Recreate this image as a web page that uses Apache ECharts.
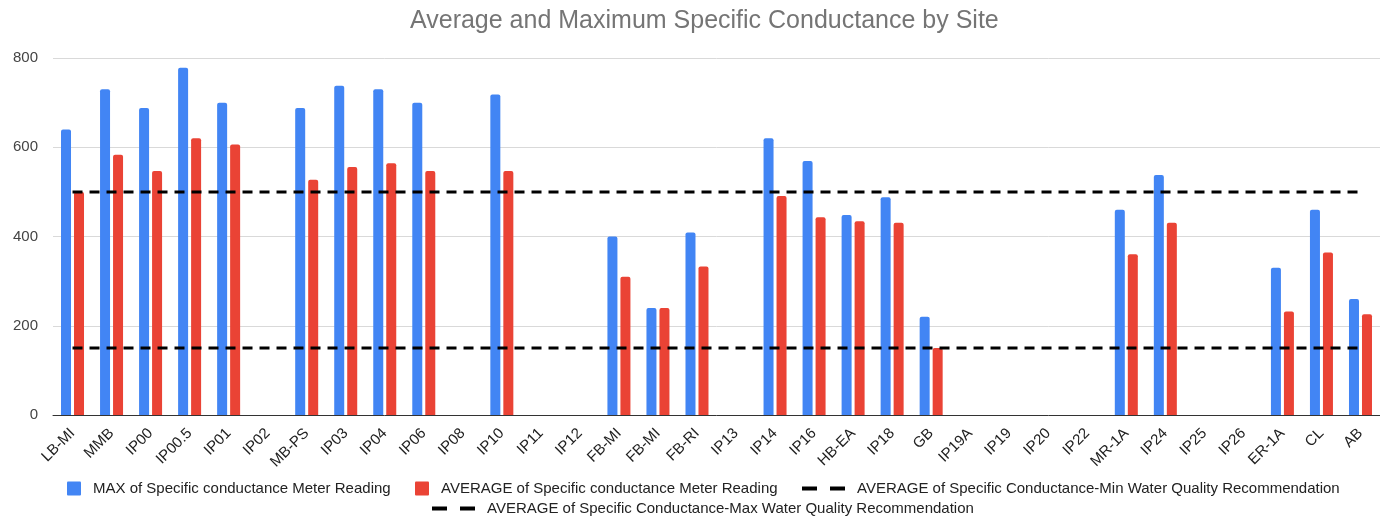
<!DOCTYPE html>
<html>
<head>
<meta charset="utf-8">
<title>Average and Maximum Specific Conductance by Site</title>
<script src="https://cdn.jsdelivr.net/npm/echarts@6/dist/echarts.min.js"></script>
<style>
  html, body { margin: 0; padding: 0; background: #fff; }
  #chart { width: 1380px; height: 517px; }
</style>
</head>
<body>
<div id="chart"></div>
<script>
// Sampling sites along the x axis
const sites = ['LB-MI', 'MMB', 'IP00', 'IP00.5', 'IP01', 'IP02', 'MB-PS', 'IP03', 'IP04', 'IP06',
  'IP08', 'IP10', 'IP11', 'IP12', 'FB-MI', 'FB-MI', 'FB-RI', 'IP13', 'IP14', 'IP16',
  'HB-EA', 'IP18', 'GB', 'IP19A', 'IP19', 'IP20', 'IP22', 'MR-1A', 'IP24', 'IP25',
  'IP26', 'ER-1A', 'CL', 'AB'];

// Maximum specific conductance meter reading per site (null = no reading)
const maxReading = [640, 730, 688, 778, 700, null, 688, 738, 730, 700,
  null, 718, null, null, 400, 240, 409, null, 620, 569,
  448, 488, 220, null, null, null, null, 460, 538, null,
  null, 330, 460, 260];

// Average specific conductance meter reading per site
const avgReading = [500, 583, 547, 620, 606, null, 527, 556, 564, 547,
  null, 547, null, null, 310, 240, 333, null, 491, 443,
  434, 431, 150, null, null, null, null, 360, 431, null,
  null, 232, 364, 226];

// Water quality recommendation levels, one entry per site
const minRecommendation = [150, 150, 150, 150, 150, 150, 150, 150, 150, 150,
  150, 150, 150, 150, 150, 150, 150, 150, 150, 150,
  150, 150, 150, 150, 150, 150, 150, 150, 150, 150,
  150, 150, 150, 150];
const maxRecommendation = [500, 500, 500, 500, 500, 500, 500, 500, 500, 500,
  500, 500, 500, 500, 500, 500, 500, 500, 500, 500,
  500, 500, 500, 500, 500, 500, 500, 500, 500, 500,
  500, 500, 500, 500];

// Y axis ticks
const yTicks = { min: 0, max: 800, interval: 200 };

const names = {
  max: 'MAX of Specific conductance Meter Reading',
  avg: 'AVERAGE of Specific conductance Meter Reading',
  minRec: 'AVERAGE of Specific Conductance-Min Water Quality Recommendation',
  maxRec: 'AVERAGE of Specific Conductance-Max Water Quality Recommendation'
};

const FONT = '"Liberation Sans", Arial, sans-serif';
const BLUE = '#4285F4';
const RED = '#EA4335';
const squareIcon = 'path://M1,0H13A1,1 0 0 1 14,1V13A1,1 0 0 1 13,14H1A1,1 0 0 1 0,13V1A1,1 0 0 1 1,0Z';
const dashIcon = 'path://M0,0H15V4H0Z M28,0H43V4H28Z';

const legendText = { fontFamily: FONT, fontSize: 15, color: '#222', padding: [0, 0, 0, 7] };

// One legend block per entry so each icon keeps its own width
function legendBlock(name, icon, left, top, width) {
  return {
    left: left,
    top: top,
    itemWidth: width,
    itemHeight: 14,
    symbolKeepAspect: true,
    selectedMode: false,
    textStyle: legendText,
    data: [{ name: name, icon: icon }]
  };
}

const chart = echarts.init(document.getElementById('chart'), null, { renderer: 'canvas' });

chart.setOption({
  backgroundColor: '#fff',
  animation: false,
  textStyle: { fontFamily: FONT },
  title: {
    text: 'Average and Maximum Specific Conductance by Site',
    left: 405,
    top: 4,
    textStyle: { fontFamily: FONT, fontSize: 25, fontWeight: 'normal', color: '#757575' }
  },
  legend: [
    legendBlock(names.max, squareIcon, 62, 476, 14),
    legendBlock(names.avg, squareIcon, 410, 476, 14),
    legendBlock(names.minRec, dashIcon, 797, 476, 43),
    legendBlock(names.maxRec, dashIcon, 427, 496, 43)
  ],
  grid: { left: 53, right: -7, top: 58, bottom: 102, containLabel: false },
  xAxis: {
    type: 'category',
    data: sites,
    boundaryGap: true,
    axisLine: { lineStyle: { color: '#333', width: 1 } },
    axisTick: { show: false },
    axisLabel: { interval: 0, rotate: 45, fontFamily: FONT, fontSize: 15, color: '#222', margin: 16 }
  },
  yAxis: {
    type: 'value',
    min: yTicks.min,
    max: yTicks.max,
    interval: yTicks.interval,
    axisLine: { show: false },
    axisTick: { show: false },
    axisLabel: { fontFamily: FONT, fontSize: 15, color: '#444', margin: 15 },
    splitLine: { lineStyle: { color: '#d9d9d9', width: 1 } }
  },
  series: [
    {
      name: names.max,
      type: 'bar',
      data: maxReading,
      barWidth: 10,
      barGap: '30%',
      itemStyle: { color: BLUE, borderRadius: [2, 2, 0, 0] }
    },
    {
      name: names.avg,
      type: 'bar',
      data: avgReading,
      barWidth: 10,
      barGap: '30%',
      itemStyle: { color: RED, borderRadius: [2, 2, 0, 0] }
    },
    {
      name: names.minRec,
      type: 'line',
      data: minRecommendation,
      symbol: 'none',
      itemStyle: { color: '#000' },
      lineStyle: { color: '#000', width: 3, type: [10, 7] },
      z: 5
    },
    {
      name: names.maxRec,
      type: 'line',
      data: maxRecommendation,
      symbol: 'none',
      itemStyle: { color: '#000' },
      lineStyle: { color: '#000', width: 3, type: [10, 7] },
      z: 5
    }
  ]
});
</script>
</body>
</html>
